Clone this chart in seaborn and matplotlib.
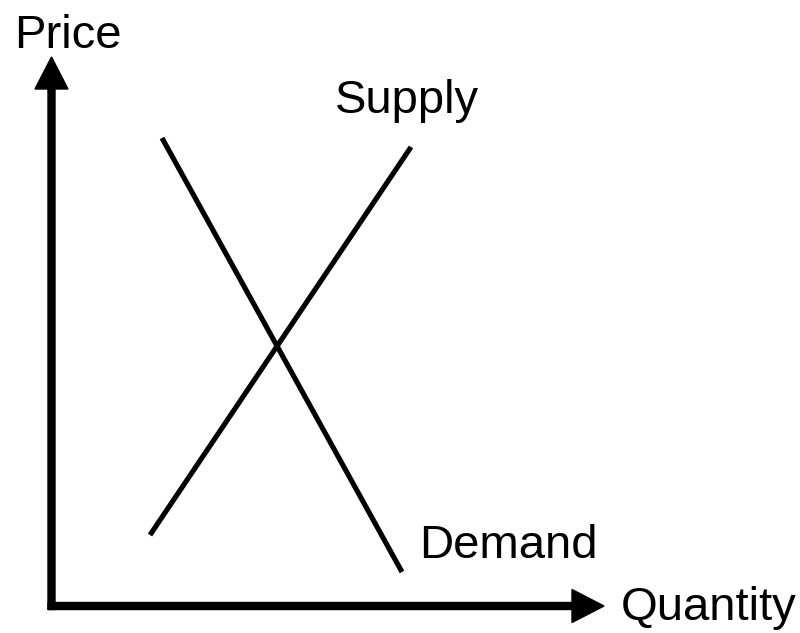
import matplotlib
matplotlib.use('Agg')
import matplotlib.pyplot as plt
import seaborn as sns
import pandas as pd

# Supply and demand curves (arbitrary quantity / price units)
supply_q = [1.97, 7.19]
supply_p = [1.42, 9.18]
demand_q = [2.21, 7.01]
demand_p = [9.36, 0.68]

# length of the two axes
q_max = 11.05
p_max = 10.98

df = pd.DataFrame({
    'Quantity': supply_q + demand_q,
    'Price': supply_p + demand_p,
    'curve': ['Supply'] * len(supply_q) + ['Demand'] * len(demand_q),
})

sns.set_style('white')
plt.rcParams['font.family'] = ['Liberation Sans', 'DejaVu Sans']
plt.rcParams['text.color'] = 'black'

fig = plt.figure(figsize=(8, 6.33), dpi=100)
ax = fig.add_axes([0, 0, 1, 1])

sns.lineplot(data=df, x='Quantity', y='Price', hue='curve', units='curve', estimator=None,
             palette={'Supply': 'black', 'Demand': 'black'}, sort=False, legend=False,
             linewidth=3.7, solid_capstyle='butt', ax=ax)

# axes drawn as arrows
ax.arrow(0, -0.07, 0, p_max + 0.07, width=0.14, head_width=0.66, head_length=0.64,
         length_includes_head=True, color='black')
ax.arrow(-0.07, 0, q_max + 0.07, 0, width=0.14, head_width=0.66, head_length=0.64,
         length_includes_head=True, color='black')

fs = 34
ax.text(-0.75, 11.16, 'Price', fontsize=fs, color='black', ha='left', va='baseline')
ax.text(11.39, -0.28, 'Quantity', fontsize=fs, color='black', ha='left', va='baseline')
ax.text(5.67, 9.86, 'Supply', fontsize=fs, color='black', ha='left', va='baseline')
ax.text(7.35, 0.96, 'Demand', fontsize=fs, color='black', ha='left', va='baseline')

ax.set_xlim(-1.03, 14.97)
ax.set_ylim(-0.54, 12.12)
ax.axis('off')

fig.savefig('out.png', dpi=100)
